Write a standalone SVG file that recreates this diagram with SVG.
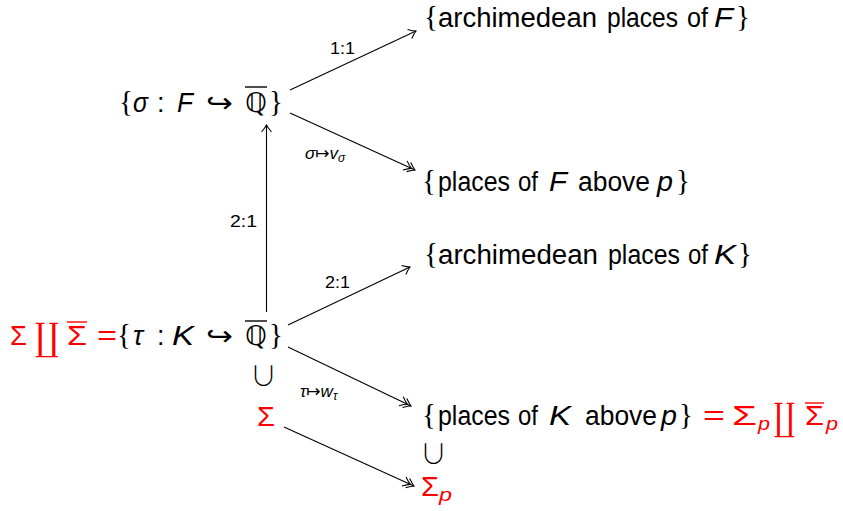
<svg xmlns="http://www.w3.org/2000/svg" width="843" height="511" viewBox="0 0 843 511">
<style>
text{font-family:"Liberation Sans","DejaVu Sans",sans-serif;fill:#000;font-size:27px}
.l{font-size:17px}
.i{font-style:italic}
.r{fill:#ff0000}
.s{font-family:"DejaVu Sans",sans-serif}
.b{font-family:"Liberation Serif","DejaVu Serif",serif;font-size:29px}
.cup{font-family:"Noto Sans CJK JP","DejaVu Sans",sans-serif;font-size:27px;font-weight:300}
.cop{font-family:"DejaVu Serif","DejaVu Sans",serif;font-size:38px}
.c{stroke:#000;stroke-width:1.1;fill:none}
.ob{stroke:#000;stroke-width:1.4}
.or{stroke:#ff0000;stroke-width:1.4}
.sub{font-size:19px;font-style:italic}
</style>
<defs>
<marker id="a" viewBox="-9 -6 10 12" markerWidth="10" markerHeight="12" refX="0" refY="0" orient="auto" markerUnits="userSpaceOnUse">
<path d="M-7,-5 Q-2.5,-1.2 0,0 Q-2.5,1.2 -7,5" fill="none" stroke="#000" stroke-width="1.1"/>
</marker>
<marker id="d" viewBox="-13 -6 14 12" markerWidth="14" markerHeight="12" refX="0" refY="0" orient="auto" markerUnits="userSpaceOnUse">
<path d="M-7,-5 Q-2.5,-1.2 0,0 Q-2.5,1.2 -7,5 M-11,-5 Q-6.5,-1.2 -4,0 Q-6.5,1.2 -11,5" fill="none" stroke="#000" stroke-width="1.1"/>
</marker>
</defs>
<g id="connectors">
<line class="c" x1="290" y1="90" x2="416" y2="31" marker-end="url(#a)"/>
<line class="c" x1="290" y1="113" x2="415" y2="170" marker-end="url(#d)"/>
<line class="c" x1="266.5" y1="312" x2="266.5" y2="125" marker-end="url(#a)"/>
<line class="c" x1="288" y1="325" x2="410" y2="267" marker-end="url(#a)"/>
<line class="c" x1="288" y1="347" x2="411" y2="406" marker-end="url(#d)"/>
<line class="c" x1="284" y1="427" x2="414" y2="486" marker-end="url(#d)"/>
<text class="l" x="330" y="54" textLength="25" lengthAdjust="spacingAndGlyphs">1:1</text>
<text class="l" x="305" y="159"><tspan class="i">σ</tspan><tspan class="s">↦</tspan><tspan class="i">v</tspan><tspan class="i" font-size="12" dy="3">σ</tspan></text>
<text class="l" x="230" y="227" textLength="27" lengthAdjust="spacingAndGlyphs">2:1</text>
<text class="l" x="325" y="288" textLength="25" lengthAdjust="spacingAndGlyphs">2:1</text>
<text class="l" x="300" y="397"><tspan class="i">τ</tspan><tspan class="s">↦</tspan><tspan class="i">w</tspan><tspan class="i" font-size="12" dy="3">τ</tspan></text>
</g>
<g id="n-sigmaF">
<text class="b" x="119" y="111">{</text>
<text class="i" x="133" y="112" textLength="15" lengthAdjust="spacingAndGlyphs">σ</text>
<text x="157" y="112">:</text>
<text class="i" x="177" y="112" textLength="16" lengthAdjust="spacingAndGlyphs">F</text>
<text class="s" x="206" y="112" font-size="24" textLength="27" lengthAdjust="spacingAndGlyphs">↪</text>
<text class="s" x="245" y="112" textLength="22" lengthAdjust="spacingAndGlyphs">ℚ</text>
<text class="b" x="269" y="111">}</text>
<line class="ob" x1="245" y1="87" x2="267" y2="87"/>
</g>
<g id="n-archF">
<text class="b" x="424" y="26">{</text>
<text x="438" y="27" textLength="159" lengthAdjust="spacingAndGlyphs">archimedean</text>
<text x="607" y="27" textLength="71" lengthAdjust="spacingAndGlyphs">places</text>
<text x="687" y="27" textLength="21" lengthAdjust="spacingAndGlyphs">of</text>
<text class="i" x="714" y="27" textLength="19" lengthAdjust="spacingAndGlyphs">F</text>
<text class="b" x="736" y="26">}</text>
</g>
<g id="n-placesF">
<text class="b" x="422" y="190">{</text>
<text x="438" y="191" textLength="72" lengthAdjust="spacingAndGlyphs">places</text>
<text x="518" y="191" textLength="20" lengthAdjust="spacingAndGlyphs">of</text>
<text class="i" x="549" y="191" textLength="18" lengthAdjust="spacingAndGlyphs">F</text>
<text x="578" y="191" textLength="72" lengthAdjust="spacingAndGlyphs">above</text>
<text class="i" x="657" y="191" textLength="16" lengthAdjust="spacingAndGlyphs">p</text>
<text class="b" x="676" y="190">}</text>
</g>
<g id="n-archK">
<text class="b" x="424" y="263">{</text>
<text x="438" y="264" textLength="160" lengthAdjust="spacingAndGlyphs">archimedean</text>
<text x="608" y="264" textLength="72" lengthAdjust="spacingAndGlyphs">places</text>
<text x="688" y="264" textLength="20" lengthAdjust="spacingAndGlyphs">of</text>
<text class="i" x="714" y="264" textLength="22" lengthAdjust="spacingAndGlyphs">K</text>
<text class="b" x="738" y="263">}</text>
</g>
<g id="n-tauK">
<text class="r" x="10" y="345" textLength="17" lengthAdjust="spacingAndGlyphs">Σ</text>
<text class="r cop" x="35" y="350" textLength="24" lengthAdjust="spacingAndGlyphs">∐</text>
<text class="r" x="67" y="345" textLength="20" lengthAdjust="spacingAndGlyphs">Σ</text>
<line class="or" x1="67" y1="322" x2="87" y2="322"/>
<text class="r" x="97" y="345" textLength="20" lengthAdjust="spacingAndGlyphs">=</text>
<text class="b" x="117" y="344">{</text>
<text class="i" x="133" y="345">τ</text>
<text x="157" y="345">:</text>
<text class="i" x="172" y="345" textLength="22" lengthAdjust="spacingAndGlyphs">K</text>
<text class="s" x="206" y="345" font-size="24" textLength="27" lengthAdjust="spacingAndGlyphs">↪</text>
<text class="s" x="245" y="345" textLength="22" lengthAdjust="spacingAndGlyphs">ℚ</text>
<text class="b" x="269" y="344">}</text>
<line class="ob" x1="245" y1="321" x2="267" y2="321"/>
</g>
<g id="n-cup1">
<text class="cup" x="263.5" y="386" text-anchor="middle">∪</text>
</g>
<g id="n-Sigma">
<text class="r" x="257" y="426" textLength="18" lengthAdjust="spacingAndGlyphs">Σ</text>
</g>
<g id="n-placesK">
<text class="b" x="422" y="424">{</text>
<text x="438" y="425" textLength="72" lengthAdjust="spacingAndGlyphs">places</text>
<text x="518" y="425" textLength="20" lengthAdjust="spacingAndGlyphs">of</text>
<text class="i" x="549" y="425" textLength="22" lengthAdjust="spacingAndGlyphs">K</text>
<text x="585" y="425" textLength="72" lengthAdjust="spacingAndGlyphs">above</text>
<text class="i" x="661" y="425" textLength="16" lengthAdjust="spacingAndGlyphs">p</text>
<text class="b" x="679" y="424">}</text>
<text class="r" x="703" y="425" textLength="22" lengthAdjust="spacingAndGlyphs">=</text>
<text class="r" x="732" y="425" textLength="25" lengthAdjust="spacingAndGlyphs">Σ</text>
<text class="r sub" x="758" y="430" textLength="12" lengthAdjust="spacingAndGlyphs">p</text>
<text class="r cop" x="774" y="430" textLength="21" lengthAdjust="spacingAndGlyphs">∐</text>
<text class="r" x="805" y="425" textLength="19" lengthAdjust="spacingAndGlyphs">Σ</text>
<line class="or" x1="805" y1="403" x2="824" y2="403"/>
<text class="r sub" x="826" y="430" textLength="12" lengthAdjust="spacingAndGlyphs">p</text>
</g>
<g id="n-cup2">
<text class="cup" x="433.5" y="464" text-anchor="middle">∪</text>
</g>
<g id="n-Sigmap">
<text class="r" x="421" y="496" textLength="18" lengthAdjust="spacingAndGlyphs">Σ</text>
<text class="r sub" x="439" y="501" textLength="13" lengthAdjust="spacingAndGlyphs">p</text>
</g>
</svg>
